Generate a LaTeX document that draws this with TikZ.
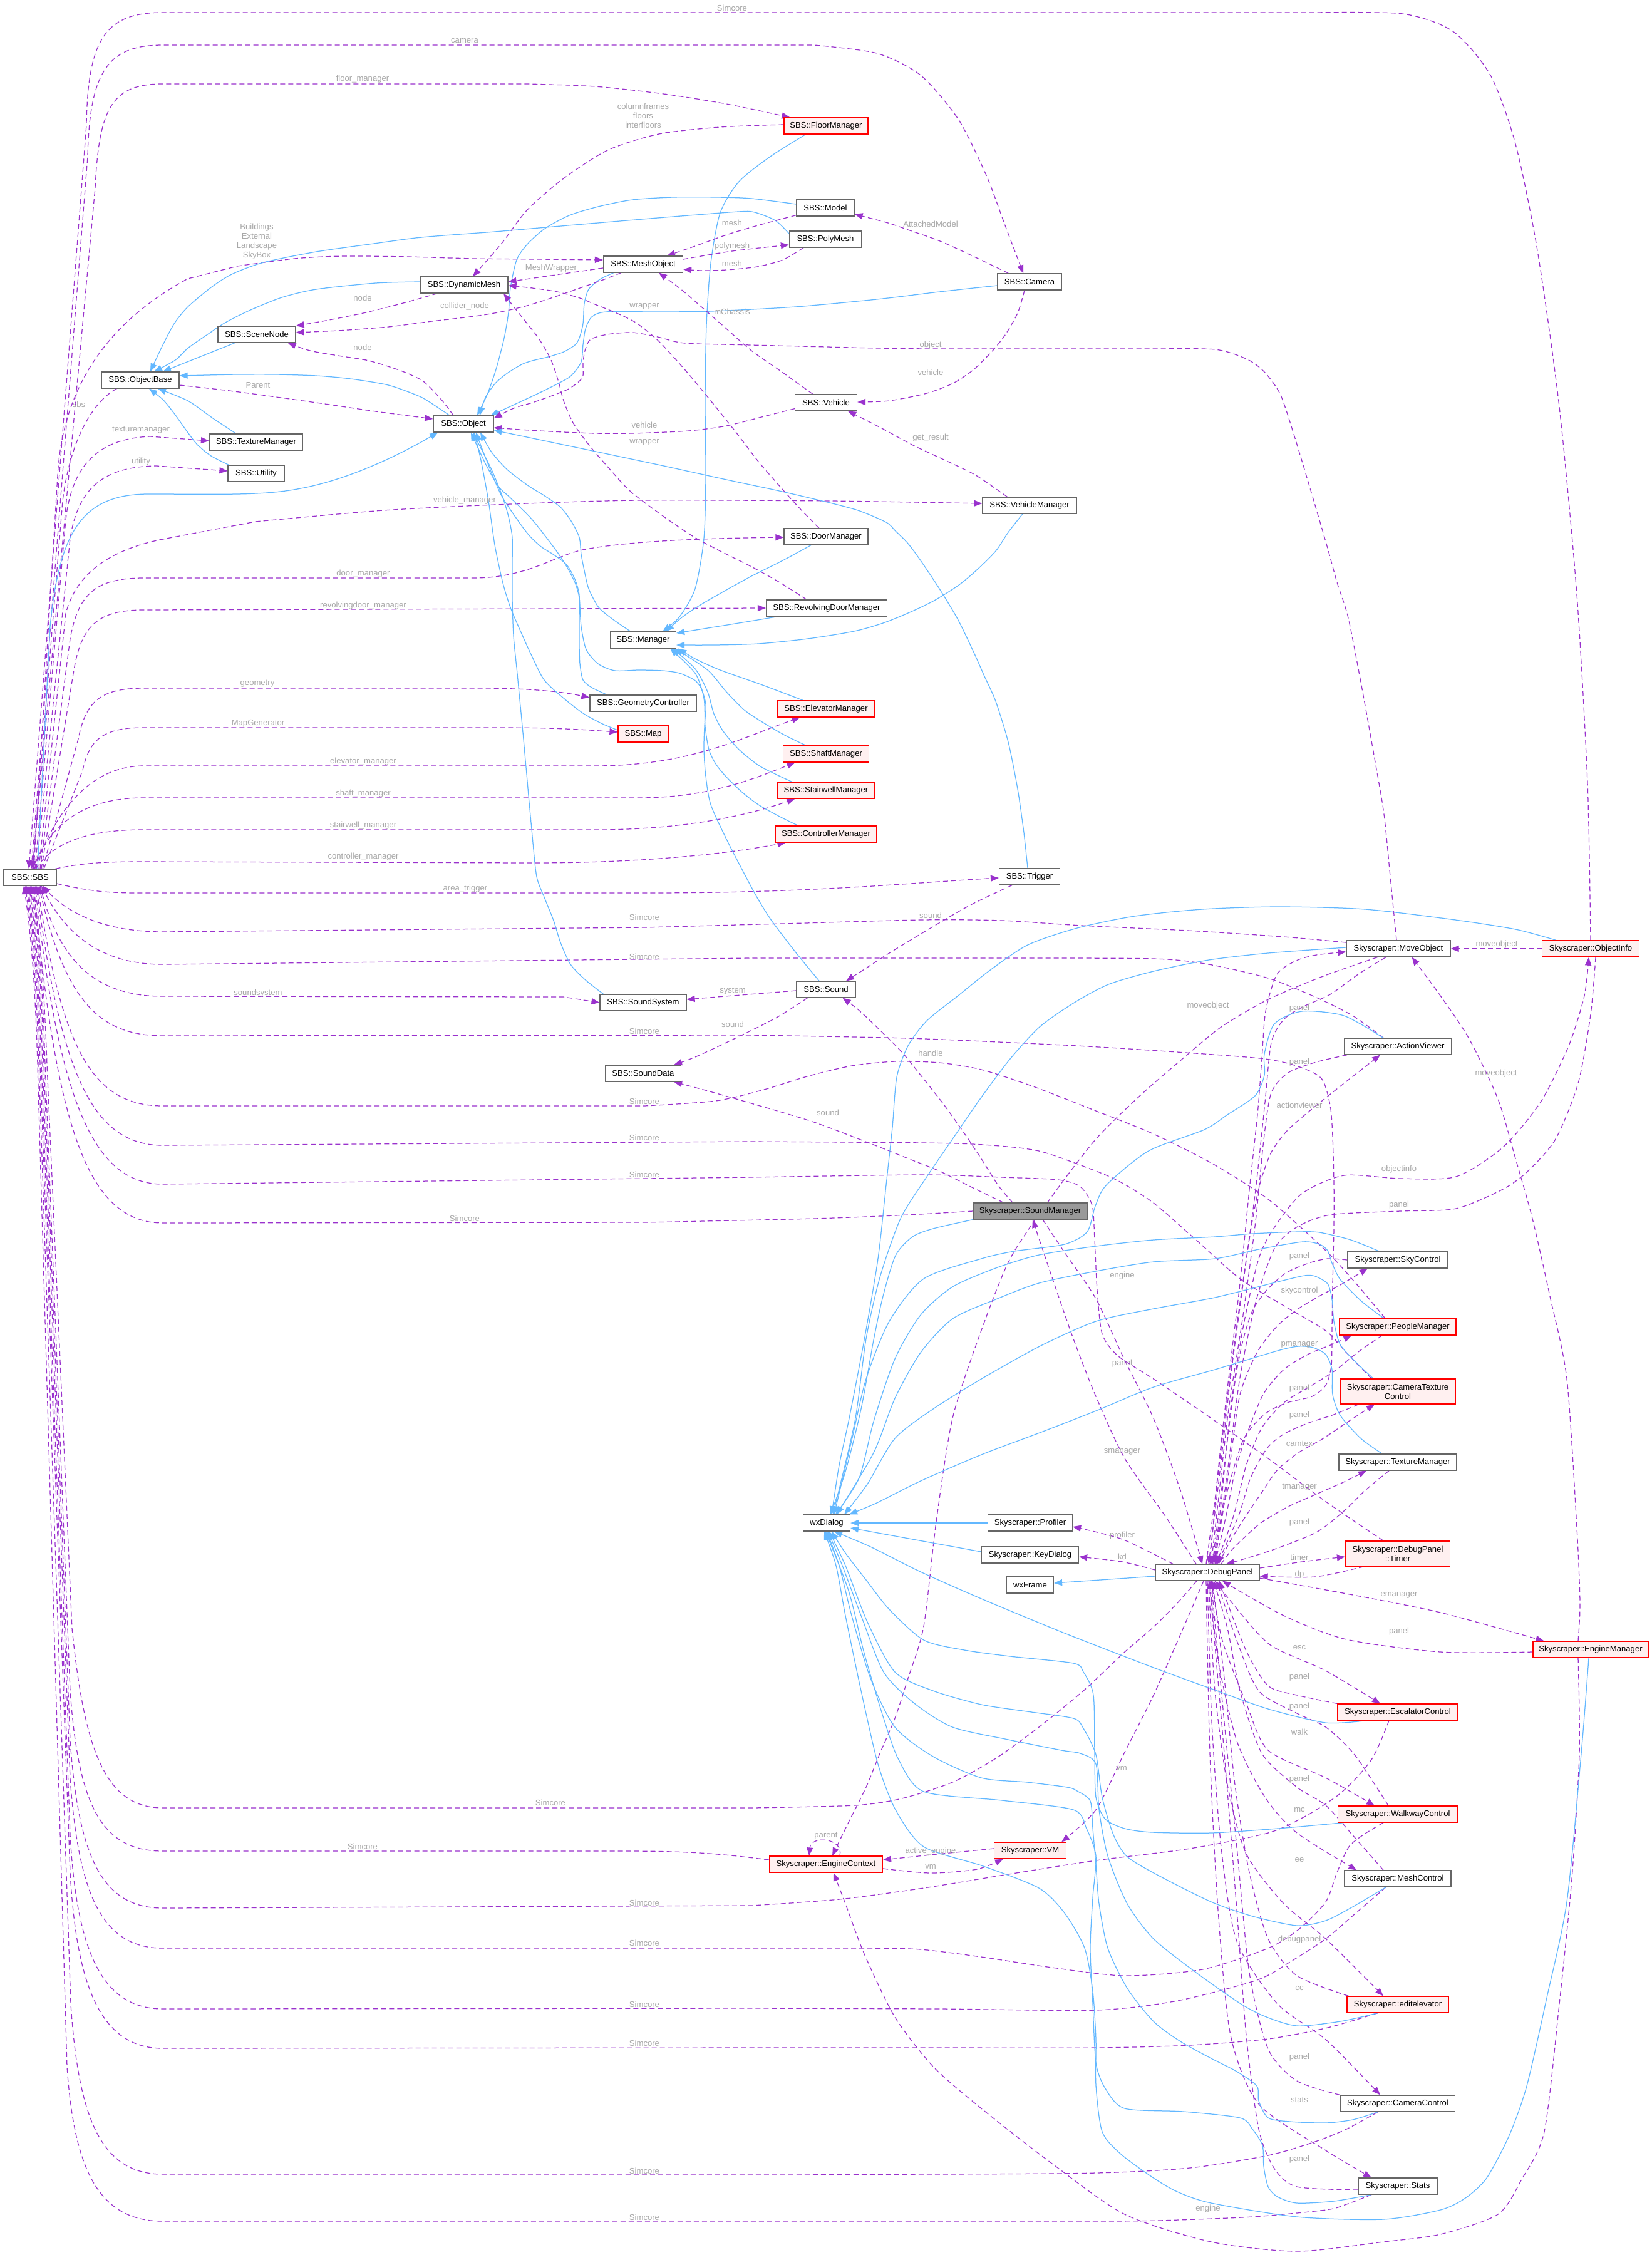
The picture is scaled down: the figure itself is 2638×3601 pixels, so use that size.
\documentclass[tikz,border=0pt]{standalone}
\usepackage{fontspec}
\setmainfont{Liberation Sans}
\usetikzlibrary{arrows.meta,calc}
\definecolor{depc}{HTML}{9A32CD}
\definecolor{inhc}{HTML}{63B8FF}
\definecolor{lblc}{HTML}{A8A8A8}
\definecolor{boxc}{HTML}{666666}
\definecolor{redfill}{HTML}{FFF0F0}
\definecolor{rootfill}{HTML}{999999}
\pgfdeclarelayer{bg}
\pgfsetlayers{bg,main}
\newcommand\nfont{\fontsize{13.1bp}{14.8bp}\selectfont}
\newcommand\depedge[1]{\draw[dep] plot[smooth,tension=0.45] coordinates {#1};}
\newcommand\inhedge[1]{\draw[inh] plot[smooth,tension=0.45] coordinates {#1};}
\newcommand\elabel[3]{\node[lbltxt] at (#1,#2) {#3};}
\tikzset{
 box/.style={draw=boxc, fill=white, line width=1.2bp, minimum height=26bp, inner sep=0pt, font=\nfont, text=black, align=center},
 redbox/.style={box, draw=red, fill=redfill},
 dep/.style={draw=depc, line width=1.25bp, dash pattern=on 8bp off 5bp, -{Triangle[length=13bp,width=10bp]}},
 inh/.style={draw=inhc, line width=1.25bp, -{Triangle[length=13bp,width=10bp]}},
 lbltxt/.style={text=lblc, font=\nfont, inner sep=0pt, align=center},
}
\begin{document}
\begin{tikzpicture}[x=1bp,y=-1bp]
\useasboundingbox (0,0) rectangle (2638,3601);
% ---------------- nodes
\node[redbox, minimum width=134bp] (fm) at (1319,201) {SBS::FloorManager};
\node[box, minimum width=92bp] (model) at (1318,332) {SBS::Model};
\node[box, minimum width=115bp] (poly) at (1318,382) {SBS::PolyMesh};
\node[box, minimum width=127bp] (mo) at (1027,422) {SBS::MeshObject};
\node[box, minimum width=102bp] (cam) at (1644,450) {SBS::Camera};
\node[box, minimum width=140bp] (dm) at (741,455) {SBS::DynamicMesh};
\node[box, minimum width=124bp] (sn) at (410,534) {SBS::SceneNode};
\node[box, minimum width=124bp] (ob) at (224,607) {SBS::ObjectBase};
\node[box, minimum width=96bp] (obj) at (740,677) {SBS::Object};
\node[box, minimum width=149bp] (tm) at (409,706) {SBS::TextureManager};
\node[box, minimum width=90bp] (util) at (409,756) {SBS::Utility};
\node[box, minimum width=99bp] (veh) at (1319,643) {SBS::Vehicle};
\node[box, minimum width=150bp] (vmgr) at (1644,807) {SBS::VehicleManager};
\node[box, minimum width=134bp] (dorm) at (1319,857) {SBS::DoorManager};
\node[box, minimum width=193bp] (rdm) at (1320,971) {SBS::RevolvingDoorManager};
\node[box, minimum width=105bp] (mgr) at (1027,1022) {SBS::Manager};
\node[box, minimum width=170bp] (geo) at (1027,1123) {SBS::GeometryController};
\node[redbox, minimum width=80bp] (map) at (1027,1172) {SBS::Map};
\node[redbox, minimum width=154bp] (elev) at (1319,1132) {SBS::ElevatorManager};
\node[redbox, minimum width=137bp] (shaft) at (1319,1204) {SBS::ShaftManager};
\node[redbox, minimum width=156bp] (stair) at (1319,1262) {SBS::StairwellManager};
\node[redbox, minimum width=162bp] (ctrl) at (1319,1332) {SBS::ControllerManager};
\node[box, minimum width=84bp] (sbs) at (48,1401) {SBS::SBS};
\node[box, minimum width=97bp] (trig) at (1644,1400) {SBS::Trigger};
\node[box, minimum width=166bp] (mov) at (2233,1515) {Skyscraper::MoveObject};
\node[redbox, minimum width=155bp] (oi) at (2540,1515) {Skyscraper::ObjectInfo};
\node[box, minimum width=94bp] (snd) at (1319,1580) {SBS::Sound};
\node[box, minimum width=138bp] (ss) at (1027,1601) {SBS::SoundSystem};
\node[box, minimum width=121bp] (sd) at (1027,1714) {SBS::SoundData};
\node[box, minimum width=75bp] (wxd) at (1320,2432) {wxDialog};
\node[box, minimum width=171bp] (av) at (2232,1671) {Skyscraper::ActionViewer};
\node[box, fill=rootfill, minimum width=182bp] (sm) at (1645,1934) {Skyscraper::SoundManager};
\node[box, minimum width=160bp] (sky) at (2232,2012) {Skyscraper::SkyControl};
\node[redbox, minimum width=186bp] (pm) at (2232,2119) {Skyscraper::PeopleManager};
\node[redbox, minimum width=184bp, minimum height=40bp] (ctc) at (2232,2222) {Skyscraper::CameraTexture\\Control};
\node[box, minimum width=188bp] (stm) at (2232,2335) {Skyscraper::TextureManager};
\node[box, minimum width=135bp] (prof) at (1645,2432) {Skyscraper::Profiler};
\node[box, minimum width=155bp] (kd) at (1645,2483) {Skyscraper::KeyDialog};
\node[redbox, minimum width=167bp, minimum height=40bp] (tmr) at (2232,2481) {Skyscraper::DebugPanel\\::Timer};
\node[box, minimum width=166bp] (dp) at (1928,2511) {Skyscraper::DebugPanel};
\node[box, minimum width=75bp] (wxf) at (1645,2531) {wxFrame};
\node[redbox, minimum width=184bp] (em) at (2540,2634) {Skyscraper::EngineManager};
\node[redbox, minimum width=192bp] (esc) at (2232,2734) {Skyscraper::EscalatorControl};
\node[redbox, minimum width=191bp] (walk) at (2232,2897) {Skyscraper::WalkwayControl};
\node[redbox, minimum width=115bp] (vmach) at (1645,2955) {Skyscraper::VM};
\node[redbox, minimum width=181bp] (ec) at (1319,2977) {Skyscraper::EngineContext};
\node[box, minimum width=170bp] (mc) at (2232,3000) {Skyscraper::MeshControl};
\node[redbox, minimum width=162bp] (ee) at (2232,3201) {Skyscraper::editelevator};
\node[box, minimum width=183bp] (cc) at (2232,3359) {Skyscraper::CameraControl};
\node[box, minimum width=126bp] (stats) at (2232,3491) {Skyscraper::Stats};

\begin{pgfonlayer}{bg}
\fill[white] (0,0) rectangle (2638,3601);
% ---------------- left bundle, lines leaving SBS upwards
\draw[dep] plot[smooth,tension=0.45] coordinates {(oi.north) (2535,1250) (2518,950) (2490,650) (2455,400) (2420,230) (2380,120) (2320,50) (2240,22) (2100,20)} -- (260,20) .. controls (170,20) and (140,60) .. (138,200) -- ($(sbs.north)+(-2,0)$);
\draw[dep] ($(sbs.north)+(2,0)$) -- (140,250) .. controls (143,110) and (175,72) .. (260,72) -- plot[smooth,tension=0.45] coordinates {(1300,72) (1400,85) (1470,120) (1530,190) (1575,280) (1605,360) ($(cam.north)+(-10,0)$)};
\draw[dep] ($(sbs.north)+(4,0)$) -- (152,300) .. controls (158,170) and (180,134) .. (260,134) -- plot[smooth,tension=0.45] coordinates {(842,134) (950,138) (1060,150) (1160,166) ($(fm.north west)+(10,0)$)};
\draw[dep] ($(ob.south west)+(25,0)$) .. controls (150,640) and (112,700) .. (100,800) -- ($(sbs.north)+(4,0)$);
\draw[dep] ($(sbs.north)+(6,0)$) -- (92,760) .. controls (100,610) and (180,510) .. (300,445) -- plot[smooth,tension=0.45] coordinates {(379,425) (470,413) (547,409) (650,410) (758,413) (860,414) ($(mo.west)+(0,-7)$)};
\draw[dep] ($(sbs.north)+(8,0)$) -- (105,830) .. controls (115,740) and (160,700) .. (240,697) -- ($(tm.west)+(0,-2)$);
\draw[dep] ($(sbs.north)+(10,0)$) -- (112,860) .. controls (125,775) and (170,745) .. (250,744) -- ($(util.west)+(0,-4)$);
\draw[inh] ($(sbs.north)+(12,0)$) -- (80,1000) .. controls (95,850) and (130,790) .. (235,789) .. controls (350,789) and (420,792) .. (480,780) .. controls (560,765) and (640,725) .. ($(obj.south west)+(8,0)$);
\draw[dep] ($(sbs.north)+(14,0)$) -- (105,980) .. controls (120,920) and (170,880) .. (255,862) -- plot[smooth,tension=0.45] coordinates {(408,833) (612,815) (816,805) (1020,799) (1326,800) ($(vmgr.west)+(0,-3)$)};
\draw[dep] ($(sbs.north)+(16,0)$) -- (112,1020) .. controls (125,950) and (150,923) .. (230,923) -- (755,923) .. controls (840,923) and (880,890) .. (930,878) .. controls (1000,865) and (1100,860) .. ($(dorm.west)+(0,1)$);
\draw[dep] ($(sbs.north)+(18,0)$) -- (118,1070) .. controls (130,1000) and (155,974) .. (230,974) -- (rdm.west);
\draw[dep] ($(sbs.north)+(20,0)$) -- (125,1180) .. controls (137,1120) and (160,1099) .. (230,1099) -- (765,1099) .. controls (850,1099) and (900,1105) .. ($(geo.west)+(0,-9)$);
\draw[dep] ($(sbs.north)+(22,0)$) -- (132,1230) .. controls (143,1180) and (165,1162) .. (230,1162) -- (800,1162) .. controls (880,1162) and (930,1165) .. ($(map.west)+(0,-3)$);
\draw[dep] ($(sbs.north)+(7,0)$) .. controls (80,1320) and (130,1223) .. (230,1223) -- (949,1223) .. controls (1100,1223) and (1180,1180) .. ($(elev.south west)+(36,0)$);
\draw[dep] ($(sbs.north)+(5,0)$) .. controls (75,1325) and (125,1274) .. (230,1274) -- (1020,1274) .. controls (1130,1274) and (1200,1245) .. ($(shaft.south west)+(20,0)$);
\draw[dep] ($(sbs.north)+(9,0)$) .. controls (85,1345) and (140,1325) .. (230,1325) -- (950,1325) .. controls (1100,1325) and (1200,1300) .. ($(stair.south west)+(29,0)$);
\draw[dep] ($(sbs.north east)+(-2,0)$) .. controls (130,1378) and (170,1376) .. (230,1376) -- (847,1378) .. controls (1050,1378) and (1180,1360) .. ($(ctrl.south west)+(17,0)$);
\draw[dep] ($(sbs.east)+(0,10)$) .. controls (150,1425) and (180,1426) .. (230,1426) -- (1029,1426) .. controls (1300,1426) and (1450,1410) .. ($(trig.west)+(0,2)$);
% ---------------- left bundle, lines arriving at SBS from below
\draw[dep] plot[smooth,tension=0.45] coordinates {($(mov.west)+(0,-10)$) (2050,1496) (1897,1486) (1727,1478) (1600,1470) (1471,1469) (1250,1475) (1029,1481)} -- (260,1488) .. controls (170,1488) and (110,1460) .. ($(sbs.south)+(20,0)$);
\draw[dep] plot[smooth,tension=0.45] coordinates {($(av.north)+(-23,0)$) (2160,1622) (2100,1592) (2025,1562) (1930,1540) (1842,1531) (1600,1530) (1200,1530)} -- (260,1540) .. controls (170,1540) and (110,1500) .. ($(sbs.south)+(18,0)$);
\draw[dep] ($(sbs.south)+(16,0)$) .. controls (90,1520) and (140,1591) .. (260,1591) -- (900,1592) -- (ss.west);
\draw[dep] plot[smooth,tension=0.45] coordinates {($(dp.north)+(8,0)$) (1955,2400) (1985,2300) (2020,2258) (2055,2240) (2095,2230) (2117,2212) (2126,2180) (2127,2120) (2128,2050) (2130,1960) (2130,1890) (2128,1815) (2124,1765) (2110,1722) (2070,1702) (2012,1690) (1850,1678) (1700,1669) (1450,1658) (1200,1653)} -- (260,1654) .. controls (160,1654) and (105,1600) .. ($(sbs.south)+(14,0)$);
\draw[dep] plot[smooth,tension=0.45] coordinates {($(pm.north)+(-20,0)$) (2170,2055) (2117,1997) (2025,1915) (1934,1857) (1840,1810) (1750,1774) (1650,1735) (1567,1708) (1500,1697) (1429,1695) (1360,1702) (1292,1718) (1220,1740) (1143,1758) (1029,1766)} -- (260,1766) .. controls (150,1766) and (100,1680) .. ($(sbs.south)+(12,0)$);
\draw[dep] plot[smooth,tension=0.45] coordinates {($(ctc.north)+(-42,0)$) (2150,2160) (2117,2125) (2050,2085) (1980,2042) (1910,1980) (1842,1921) (1790,1888) (1750,1870) (1659,1838) (1570,1828) (1475,1825) (1200,1823)} -- (260,1829) .. controls (150,1829) and (98,1720) .. ($(sbs.south)+(10,0)$);
\draw[dep] plot[smooth,tension=0.45] coordinates {($(tmr.north)+(-23,0)$) (2120,2400) (2025,2329) (1930,2262) (1842,2202) (1785,2165) (1760,2130) (1752,2060) (1748,1980) (1744,1925) (1725,1895) (1690,1884) (1600,1880) (1475,1876) (1200,1880)} -- (260,1891) .. controls (150,1891) and (95,1760) .. ($(sbs.south)+(8,0)$);
\draw[dep] plot[smooth,tension=0.45] coordinates {(sm.west) (1450,1940) (1300,1946) (1029,1952)} -- (260,1953) .. controls (140,1953) and (90,1800) .. ($(sbs.south)+(6,0)$);
\draw[dep] plot[smooth,tension=0.45] coordinates {($(dp.south)+(-17,0)$) (1880,2560) (1840,2600) (1796,2638) (1730,2700) (1659,2758) (1590,2808) (1521,2846) (1440,2872) (1365,2883) (1200,2887)} -- (260,2887) .. controls (170,2887) and (135,2800) .. (115,2600) -- (75,1700) .. controls (70,1560) and (62,1480) .. ($(sbs.south)+(4,0)$);
\draw[dep] ($(ec.west)+(0,-7)$) .. controls (1150,2960) and (1100,2956) .. (1000,2956) -- (260,2956) .. controls (160,2956) and (125,2880) .. (112,2700) -- (72,1700) .. controls (68,1560) and (60,1480) .. ($(sbs.south)+(2,0)$);
\draw[dep] plot[smooth,tension=0.45] coordinates {($(esc.south)+(-14,0)$) (2205,2780) (2190,2810) (2165,2840) (2135,2868) (2085,2900) (2025,2927) (1900,2952) (1750,2971) (1610,2993) (1475,3015) (1340,3033) (1200,3043)} -- (260,3047) .. controls (160,3047) and (125,2960) .. (112,2780) -- (70,1700) .. controls (66,1560) and (58,1480) .. ($(sbs.south)+(0,0)$);
\draw[dep] plot[smooth,tension=0.45] coordinates {($(walk.south)+(-23,0)$) (2180,2928) (2154,2949) (2135,2990) (2117,3037) (2075,3080) (2025,3111) (1920,3145) (1796,3155) (1680,3142) (1567,3125) (1470,3113) (1383,3111) (1200,3111)} -- (260,3111) .. controls (160,3111) and (125,3020) .. (112,2840) -- (68,1700) .. controls (64,1560) and (56,1480) .. ($(sbs.south)+(-2,0)$);
\draw[dep] plot[smooth,tension=0.45] coordinates {($(mc.south)+(-19,0)$) (2165,3055) (2117,3096) (2060,3133) (2007,3162) (1880,3195) (1750,3210) (1500,3208) (1200,3207)} -- (260,3208) .. controls (160,3208) and (122,3110) .. (112,2930) -- (66,1700) .. controls (62,1560) and (54,1480) .. ($(sbs.south)+(-4,0)$);
\draw[dep] plot[smooth,tension=0.45] coordinates {($(ee.south)+(-32,0)$) (2120,3238) (2025,3256) (1900,3266) (1750,3270) (1500,3270) (1200,3270)} -- (260,3271) .. controls (160,3271) and (122,3170) .. (112,2990) -- (64,1700) .. controls (60,1560) and (52,1480) .. ($(sbs.south)+(-6,0)$);
\draw[dep] plot[smooth,tension=0.45] coordinates {($(cc.south)+(-32,0)$) (2150,3400) (2100,3420) (2025,3442) (1900,3462) (1750,3470) (1500,3472) (1200,3472)} -- (260,3472) .. controls (160,3472) and (125,3380) .. (113,3200) -- (62,1700) .. controls (58,1560) and (50,1480) .. ($(sbs.south)+(-8,0)$);
\draw[dep] plot[smooth,tension=0.45] coordinates {($(stats.south)+(-42,0)$) (2150,3520) (2117,3529) (2000,3540) (1850,3546) (1750,3547) (1500,3547) (1200,3547)} -- (260,3547) .. controls (155,3547) and (118,3460) .. (107,3300) -- (60,1700) .. controls (56,1560) and (48,1480) .. ($(sbs.south)+(-10,0)$);
% ---------------- SBS middle area
\depedge{($(fm.west)+(0,-2)$) (1150,203) (1052,214) (970,240) (900,285) (842,335) (800,390) ($(dm.north)+(14,0)$)}
\inhedge{($(fm.south west)+(35,0)$) (1230,250) (1180,290) (1150,340) (1135,420) (1128,520) (1126,640) (1127,760) (1124,860) (1110,940) (1085,985) ($(mgr.north east)+(-22,0)$)}
\inhedge{($(model.west)+(0,-6)$) (1200,317) (1145,315) (1075,315) (1010,319) (955,330) (909,344) (870,365) (842,390) (825,415) (815,460) (812,499) (805,540) (792,590) (778,630) ($(obj.north)+(22,0)$)}
\inhedge{($(poly.west)+(0,-9)$) (1238,352) (1205,339) (1179,338) (1050,348) (907,360) (790,370) (673,379) (590,390) (505,402) (421,419) (370,438) (337,459) (300,490) (278,517) (258,555) ($(ob.north)+(16,0)$)}
\depedge{($(model.south west)+(0,-2)$) (1210,360) (1160,375) (1110,393) ($(mo.north east)+(-26,0)$)}
\depedge{($(mo.east)+(0,-8)$) (1169,401) ($(poly.west)+(0,9)$)}
\depedge{($(poly.south west)+(23,0)$) (1250,415) (1209,426) (1160,431) (1120,432) ($(mo.east)+(0,8)$)}
\depedge{($(cam.north west)+(18,0)$) (1560,412) (1501,385) (1450,367) (1418,356) ($(model.east)+(0,10)$)}
\depedge{($(cam.south)+(-8,0)$) (1625,500) (1605,535) (1585,560) (1555,590) (1522,612) (1480,628) (1420,640) ($(veh.east)+(0,-1)$)}
\inhedge{($(cam.west)+(0,6)$) (1500,466) (1400,478) (1270,490) (1136,497) (1050,498) (968,498) (945,506) (935,525) (931,550) (928,578) (912,600) (892,612) (860,628) (830,642) ($(obj.north east)+(-5,0)$)}
\inhedge{($(mo.south west)+(17,0)$) (958,446) (940,462) (933,485) (931,517) (925,540) (918,551) (900,562) (875,570) (850,576) (833,582) (810,596) (791,612) (775,635) ($(obj.north)+(26,0)$)}
\inhedge{($(dm.west)+(0,-5)$) (600,452) (505,462) (450,475) (400,495) (360,515) (330,535) (300,556) (280,575) ($(ob.north)+(22,0)$)}
\draw[inh] ($(sn.south)+(-35,0)$) -- ($(ob.north)+(36,0)$);
\inhedge{($(tm.north)+(-32,0)$) (340,668) (300,640) ($(ob.south)+(28,0)$)}
\inhedge{($(util.north west)+(2,0)$) (337,728) (315,710) (298,688) (278,660) (260,638) ($(ob.south)+(14,0)$)}
\inhedge{($(obj.north)+(-22,0)$) (695,648) (670,633) (620,615) (560,605) (505,600) (440,598) (380,598) (330,599) ($(ob.east)+(0,-7)$)}
\depedge{($(ob.east)+(0,8)$) (350,622) (412,630) (505,643) (600,657) ($(obj.west)+(0,-8)$)}
\depedge{($(mo.west)+(0,6)$) (880,440) ($(dm.east)+(0,-5)$)}
\depedge{($(dm.south west)+(28,0)$) (640,485) (580,500) (520,512) (sn.north east)}
\depedge{($(mo.south west)+(29,0)$) (960,448) (926,460) (880,476) (842,488) (800,498) (758,505) (690,513) (620,522) (540,528) ($(sn.east)+(0,-3)$)}
\depedge{($(obj.north)+(-16,0)$) (708,642) (690,622) (673,607) (640,592) (589,576) (540,568) (495,560) ($(sn.south east)+(-13,0)$)}
\depedge{($(veh.north)+(-21,0)$) (1250,595) (1200,560) (1160,525) (1120,490) (1085,460) ($(mo.south)+(25,0)$)}
\depedge{($(veh.south west)+(0,-4)$) (1220,665) (1160,680) (1100,688) (1010,692) (950,692) (880,689) (830,686) ($(obj.east)+(0,6)$)}
\inhedge{($(vmgr.south)+(-11,0)$) (1610,850) (1590,880) (1560,910) (1530,935) (1490,960) (1450,979) (1410,995) (1364,1008) (1290,1020) (1211,1028) (1140,1030) ($(mgr.east)+(0,8)$)}
\depedge{($(vmgr.north west)+(40,0)$) (1560,760) (1520,740) (1460,712) (1410,685) (1375,667) ($(veh.south east)+(-15,0)$)}
\depedge{($(mov.north)+(-3,0)$) (2220,1400) (2210,1300) (2196,1217) (2175,1100) (2153,987) (2135,930) (2119,872) (2095,790) (2068,700) (2045,631) (2020,595) (1992,574) (1940,558) (1830,557) (1700,557) (1590,557) (1486,557) (1400,556) (1320,554) (1200,551) (1094,548) (1050,538) (1010,531) (970,534) (943,542) (934,560) (931,580) (930,603) (910,620) (884,631) (850,643) (820,652) ($(obj.east)+(0,-9)$)}
\depedge{($(dorm.north)+(-11,0)$) (1280,815) (1250,782) (1211,737) (1175,690) (1135,640) (1095,592) (1052,545) (1015,515) (980,498) (950,486) (926,476) (890,466) (850,460) ($(dm.east)+(0,1)$)}
\depedge{($(rdm.north)+(-32,0)$) (1245,930) (1200,905) (1150,880) (1109,858) (1060,825) (1007,785) (970,745) (940,710) (915,675) (900,640) (892,610) (880,575) (862,543) (842,517) (822,492) ($(dm.south)+(63,0)$)}
\inhedge{($(trig.north)+(-3,0)$) (1635,1330) (1625,1260) (1610,1185) (1590,1120) (1572,1080) (1556,1044) (1530,990) (1500,940) (1470,895) (1450,868) (1430,848) (1415,834) (1370,815) (1313,800) (1240,783) (1160,766) (1060,744) (956,722) (870,704) ($(obj.east)+(0,10)$)}
\inhedge{($(dorm.south)+(-24,0)$) (1250,895) (1200,920) (1160,942) (1120,965) (1090,985) ($(mgr.north east)+(-17,0)$)}
\draw[inh] ($(rdm.south west)+(19,0)$) .. controls (1180,995) .. ($(mgr.east)+(0,-11)$);
\inhedge{($(mgr.north)+(-20,0)$) (980,990) (956,970) (940,940) (933,911) (928,885) (925,858) (912,832) (895,810) (870,792) (844,776) (810,750) (785,722) ($(obj.south)+(27,0)$)}
\inhedge{($(geo.north)+(-58,0)$) (945,1098) (931,1086) (926,1060) (925,1028) (925,990) (925,950) (918,925) (905,902) (886,887) (864,873) (845,855) (829,834) (800,790) (775,730) ($(obj.south)+(20,0)$)}
\inhedge{($(map.west)+(0,-6)$) (960,1155) (931,1139) (900,1115) (869,1086) (848,1045) (829,1003) (815,970) (803,931) (790,870) (780,800) (768,735) ($(obj.south)+(17,0)$)}
\inhedge{($(ss.north west)+(6,0)$) (935,1565) (911,1540) (895,1505) (884,1470) (870,1435) (857,1400) (850,1335) (844,1270) (835,1170) (826,1076) (820,1015) (818,955) (818,900) (818,858) (812,825) (803,795) (785,750) ($(obj.south)+(15,0)$)}
\inhedge{($(snd.north)+(-11,0)$) (1270,1520) (1232,1470) (1210,1435) (1191,1400) (1160,1340) (1135,1285) (1127,1240) (1124,1197) (1125,1160) (1127,1125) (1120,1100) (1109,1086) (1085,1075) (1058,1071) (1020,1070) (982,1071) (955,1060) (936,1037) (928,1000) (925,955) (918,930) (905,905) (888,879) (850,830) (815,795) (796,777) (775,740) ($(obj.south)+(12,0)$)}
\inhedge{($(elev.north west)+(41,0)$) (1215,1093) (1150,1070) (1110,1052) ($(mgr.south east)+(3,0)$)}
\inhedge{($(shaft.north west)+(37,0)$) (1255,1175) (1227,1159) (1190,1135) (1160,1105) (1130,1070) ($(mgr.south east)+(-2,0)$)}
\inhedge{($(stair.north west)+(24,0)$) (1240,1237) (1211,1222) (1180,1197) (1155,1168) (1140,1140) (1130,1105) (1110,1068) ($(mgr.south east)+(-6,0)$)}
\inhedge{($(ctrl.north west)+(37,0)$) (1245,1304) (1211,1285) (1185,1265) (1160,1241) (1143,1220) (1132,1197) (1126,1160) (1124,1115) (1110,1075) ($(mgr.south east)+(-10,0)$)}
\depedge{($(snd.west)+(0,2)$) (1170,1590) ($(ss.east)+(0,-5)$)}
\depedge{($(snd.south west)+(18,0)$) (1240,1625) (1170,1660) (1110,1688) ($(sd.north east)+(-12,0)$)}
\depedge{($(trig.south)+(-28,0)$) (1550,1445) (1486,1482) (1420,1522) (1380,1548) ($(snd.north)+(32,0)$)}
\depedge{($(sm.north)+(-28,0)$) (1594,1893) (1568,1852) (1540,1810) (1508,1765) (1475,1723) (1440,1680) (1400,1640) (1370,1612) ($(snd.south east)+(-21,0)$)}
\depedge{($(sm.north west)+(49,0)$) (1550,1895) (1500,1870) (1450,1850) (1400,1830) (1300,1792) (1200,1762) (1130,1742) ($(sd.south east)+(-12,0)$)}
% ---------------- Skyscraper area, dashed
\draw[dep] (oi.west) -- (mov.east);
\depedge{($(em.north)+(-20,0)$) (2523,2560) (2518,2440) (2502,2202) (2475,2070) (2447,1946) (2420,1850) (2392,1755) (2346,1659) (2300,1590) ($(mov.south east)+(-62,0)$)}
\depedge{($(dp.north)+(10,0)$) (1950,2400) (1965,2250) (1985,2120) (2010,2010) (2035,1960) (2079,1906) (2146,1877) (2236,1882) (2325,1879) (2400,1832) (2460,1760) (2505,1670) (2530,1590) ($(oi.south)+(-3,0)$)}
\depedge{($(oi.south)+(8,0)$) (2540,1620) (2520,1730) (2484,1819) (2440,1870) (2400,1899) (2325,1930) (2236,1934) (2124,1940) (2070,1960) (2035,1994) (2005,2080) (1980,2200) (1960,2350) ($(dp.north)+(12,0)$)}
\depedge{($(mov.south)+(-20,0)$) (2170,1555) (2124,1588) (2080,1608) (2050,1628) (2030,1665) (2020,1760) (2005,1900) (1985,2050) (1965,2200) (1948,2350) ($(dp.north)+(2,0)$)}
\depedge{($(dp.north)+(4,0)$) (1945,2350) (1962,2200) (1980,2050) (1995,1900) (2008,1780) (2015,1690) (2021,1615) (2039,1556) (2070,1534) (2102,1525) ($(mov.west)+(0,5)$)}
\depedge{($(av.south west)+(5,0)$) (2102,1696) (2057,1713) (2030,1745) (2018,1820) (2005,1950) (1985,2100) (1962,2250) (1945,2400) ($(dp.north)+(6,0)$)}
\depedge{($(dp.north)+(-2,0)$) (1942,2380) (1960,2230) (1980,2080) (1998,1960) (2012,1890) (2030,1840) (2055,1806) (2090,1775) (2146,1730) ($(av.south)+(-28,0)$)}
\depedge{(sky.west) (2120,2010) (2090,2017) (2053,2033) (2023,2060) (2000,2093) (1985,2140) (1973,2200) (1960,2300) (1948,2400) ($(dp.north)+(8,0)$)}
\depedge{($(dp.north)+(10,0)$) (1952,2420) (1965,2330) (1980,2227) (2007,2160) (2040,2117) (2073,2090) (2110,2068) (2140,2052) ($(sky.south)+(-48,0)$)}
\depedge{($(dp.north)+(12,0)$) (1958,2420) (1972,2350) (1990,2293) (2017,2227) (2050,2187) (2090,2162) (2127,2147) ($(pm.south west)+(20,0)$)}
\depedge{($(pm.south)+(-25,0)$) (2170,2158) (2130,2190) (2090,2215) (2050,2240) (2015,2280) (1990,2340) (1970,2420) ($(dp.north)+(14,0)$)}
\depedge{($(ctc.south west)+(30,0)$) (2127,2260) (2090,2272) (2050,2290) (2023,2313) (1997,2360) (1978,2420) ($(dp.north)+(16,0)$)}
\depedge{($(dp.north)+(18,0)$) (1965,2460) (1990,2420) (2017,2380) (2040,2347) (2073,2320) (2113,2297) (2153,2270) ($(ctc.south)+(-37,0)$)}
\depedge{($(dp.north)+(22,0)$) (1968,2474) (2012,2433) (2057,2406) (2102,2386) (2145,2367) ($(stm.south)+(-50,0)$)}
\depedge{($(stm.south)+(-14,0)$) (2180,2380) (2146,2413) (2102,2447) (2035,2474) (1985,2490) ($(dp.north)+(30,0)$)}
\depedge{($(dp.east)+(0,-7)$) (2079,2494) ($(tmr.west)+(0,5)$)}
\depedge{($(tmr.south west)+(30,0)$) (2100,2518) ($(dp.east)+(0,6)$)}
\depedge{($(dp.north)+(-55,0)$) (1792,2458) ($(prof.east)+(0,6)$)}
\depedge{($(dp.west)+(0,-4)$) (1792,2494) ($(kd.east)+(0,3)$)}
\depedge{($(dp.east)+(0,9)$) (2150,2545) (2300,2575) ($(em.north west)+(18,0)$)}
\depedge{($(em.west)+(0,4)$) (2300,2638) (2150,2618) (2050,2580) ($(dp.south)+(24,0)$)}
\depedge{($(dp.north)+(-18,0)$) (1860,2420) (1796,2329) (1750,2230) (1714,2138) (1680,2040) ($(sm.south)+(4,0)$)}
\depedge{($(sm.south)+(20,0)$) (1700,2000) (1750,2074) (1795,2170) (1842,2265) (1885,2380) ($(dp.north)+(-8,0)$)}
\depedge{($(dp.south)+(-6,0)$) (1885,2610) (1842,2707) (1795,2800) (1750,2890) ($(vmach.north east)+(-8,0)$)}
\depedge{($(vmach.west)+(0,-3)$) (1486,2962) ($(ec.east)+(0,-7)$)}
\depedge{($(ec.east)+(0,7)$) (1486,2991) (1560,2985) ($(vmach.south west)+(15,0)$)}
\draw[dep] ($(ec.north)+(22,0)$) .. controls (1348,2935) and (1295,2930) .. ($(ec.north)+(-27,0)$);
\depedge{($(mov.south west)+(50,0)$) (2110,1560) (2025,1596) (1950,1640) (1888,1691) (1820,1750) (1750,1819) (1680,1910) (1613,2010) (1565,2130) (1521,2265) (1495,2430) (1475,2597) (1450,2680) (1429,2744) (1405,2800) (1383,2854) (1355,2910) ($(ec.north)+(10,0)$)}
\depedge{($(em.south)+(-20,0)$) (2522,2800) (2510,3000) (2490,3200) (2466,3404) (2430,3480) (2392,3536) (2300,3568) (2209,3580) (2071,3595) (1934,3580) (1796,3536) (1680,3455) (1567,3367) (1490,3300) (1429,3221) (1380,3120) (1350,3040) ($(ec.south)+(12,0)$)}
\depedge{($(dp.south)+(12,0)$) (1980,2575) (2030,2628) (2117,2668) ($(esc.north)+(-28,0)$)}
\depedge{(esc.north west) (2071,2707) (2025,2692) (1989,2634) ($(dp.south)+(19,0)$)}
\depedge{($(walk.north)+(-15,0)$) (2163,2802) (2117,2758) (2071,2736) (2010,2700) (1975,2620) ($(dp.south)+(15,0)$)}
\depedge{($(dp.south)+(6,0)$) (1952,2620) (1990,2720) (2025,2795) (2117,2839) ($(walk.north)+(-37,0)$)}
\depedge{($(mc.north)+(-23,0)$) (2163,2934) (2117,2883) (2071,2854) (2015,2800) (1980,2700) (1960,2600) ($(dp.south)+(10,0)$)}
\depedge{($(dp.south)+(4,0)$) (1945,2650) (1975,2780) (2020,2870) (2071,2927) ($(mc.north west)+(20,0)$)}
\depedge{($(dp.south)+(2,0)$) (1940,2700) (1960,2850) (1990,2960) (2050,3040) (2117,3096) ($(ee.north)+(-23,0)$)}
\depedge{($(ee.north west)+(3,0)$) (2071,3155) (2025,3096) (1995,2990) (1972,2850) (1955,2680) ($(dp.south)+(8,0)$)}
\depedge{(dp.south) (1935,2750) (1950,2950) (1975,3100) (2040,3200) (2117,3257) ($(cc.north)+(-28,0)$)}
\depedge{(cc.north west) (2071,3323) (2025,3272) (1995,3150) (1975,2950) (1955,2750) ($(dp.south)+(6,0)$)}
\depedge{($(dp.south)+(-2,0)$) (1932,2800) (1945,3050) (1965,3250) (2010,3360) (2117,3434) ($(stats.north)+(-42,0)$)}
\depedge{($(stats.west)+(0,6)$) (2071,3492) (2035,3463) (2010,3400) (1990,3250) (1975,3050) (1955,2800) ($(dp.south)+(3,0)$)}
% ---------------- Skyscraper area, inheritance
\inhedge{($(oi.north west)+(23,0)$) (2420,1484) (2324,1469) (2180,1452) (2042,1448) (1920,1452) (1812,1463) (1720,1482) (1641,1509) (1580,1550) (1530,1590) (1480,1630) (1450,1670) (1432,1720) (1425,1800) (1416,1883) (1402,2010) (1380,2140) (1356,2265) (1340,2340) ($(wxd.north)+(8,0)$)}
\inhedge{($(mov.west)+(0,-2)$) (2025,1522) (1930,1533) (1842,1551) (1770,1572) (1714,1602) (1660,1640) (1613,1691) (1565,1755) (1521,1819) (1478,1882) (1438,1946) (1405,2040) (1383,2138) (1365,2270) ($(wxd.north)+(10,0)$)}
\inhedge{($(av.north)+(-23,0)$) (2146,1622) (2079,1615) (2035,1635) (2019,1683) (2019,1717) (2004,1750) (1960,1780) (1923,1804) (1834,1838) (1767,1892) (1749,1926) (1736,1967) (1700,1987) (1620,1998) (1567,2010) (1475,2042) (1420,2110) (1383,2202) (1360,2300) ($(wxd.north)+(12,0)$)}
\inhedge{(sm.south west) (1490,1962) (1457,1975) (1430,2005) (1410,2070) (1395,2140) (1375,2250) (1350,2350) ($(wxd.north)+(6,0)$)}
\inhedge{($(sky.north)+(-29,0)$) (2157,1980) (2107,1968) (2073,1967) (2000,1970) (1940,1975) (1842,1980) (1750,1990) (1659,2004) (1590,2025) (1521,2055) (1470,2100) (1429,2170) (1395,2270) (1372,2360) ($(wxd.north)+(14,0)$)}
\inhedge{($(pm.north)+(-22,0)$) (2173,2077) (2140,2043) (2127,2017) (2120,1997) (2107,1987) (2080,1983) (2010,1995) (1940,2010) (1842,2015) (1750,2030) (1659,2049) (1590,2075) (1521,2106) (1470,2160) (1429,2233) (1395,2320) ($(wxd.north)+(16,0)$)}
\inhedge{($(ctc.north)+(-39,0)$) (2167,2177) (2140,2147) (2130,2110) (2127,2075) (2120,2050) (2100,2038) (2083,2037) (2040,2047) (1940,2072) (1842,2090) (1750,2110) (1660,2150) (1567,2202) (1490,2250) (1429,2297) (1385,2370) ($(wxd.north east)+(-10,0)$)}
\inhedge{($(stm.north)+(-25,0)$) (2173,2297) (2140,2260) (2128,2227) (2127,2187) (2117,2163) (2097,2152) (2073,2150) (2040,2157) (1940,2187) (1842,2215) (1750,2253) (1660,2288) (1567,2323) (1470,2365) (1400,2400) ($(wxd.north east)+(-2,0)$)}
\draw[inh] (prof.west) -- (wxd.east);
\draw[inh] ($(kd.west)+(0,-5)$) -- ($(wxd.east)+(0,8)$);
\draw[inh] ($(dp.west)+(0,6)$) -- ($(wxf.east)+(0,-3)$);
\inhedge{($(esc.south west)+(45,0)$) (2117,2751) (2025,2729) (1935,2697) (1842,2663) (1700,2608) (1567,2553) (1470,2510) (1390,2470) ($(wxd.south)+(12,0)$)}
\inhedge{($(walk.south west)+(10,0)$) (2040,2920) (1934,2927) (1840,2926) (1796,2920) (1765,2905) (1750,2870) (1748,2800) (1746,2707) (1730,2670) (1714,2656) (1613,2645) (1540,2635) (1475,2619) (1420,2570) (1383,2523) (1350,2480) ($(wxd.south)+(8,0)$)}
\inhedge{($(mc.south)+(-19,0)$) (2160,3045) (2117,3067) (2071,3075) (2000,3060) (1934,3037) (1850,2995) (1800,2965) (1778,2930) (1760,2870) (1750,2802) (1730,2760) (1714,2744) (1640,2733) (1567,2722) (1490,2700) (1429,2670) (1385,2590) (1350,2500) ($(wxd.south)+(4,0)$)}
\inhedge{($(ee.south)+(-32,0)$) (2140,3228) (2071,3235) (2020,3220) (1980,3199) (1910,3150) (1842,3096) (1800,3040) (1769,2964) (1755,2890) (1750,2817) (1725,2800) (1695,2795) (1610,2778) (1521,2758) (1460,2720) (1411,2670) (1375,2580) (1345,2500) ($(wxd.south)+(2,0)$)}
\inhedge{($(cc.south)+(-32,0)$) (2160,3385) (2117,3390) (2060,3388) (2025,3382) (2010,3355) (2007,3331) (1975,3308) (1934,3287) (1885,3260) (1842,3228) (1800,3175) (1769,3111) (1755,3040) (1750,2978) (1745,2920) (1741,2876) (1720,2860) (1704,2854) (1640,2846) (1567,2839) (1490,2805) (1429,2758) (1390,2680) (1360,2580) (1340,2500) (wxd.south)}
\inhedge{($(stats.south)+(-42,0)$) (2130,3515) (2071,3518) (2040,3508) (2025,3492) (2018,3460) (2016,3426) (2000,3400) (1980,3382) (1890,3372) (1796,3367) (1765,3335) (1750,3294) (1745,3200) (1741,3111) (1745,3030) (1750,2964) (1735,2920) (1714,2890) (1600,2875) (1475,2861) (1435,2810) (1411,2744) (1380,2640) (1355,2540) ($(wxd.south)+(-2,0)$)}
\inhedge{($(em.south)+(-3,0)$) (2525,2800) (2502,3037) (2470,3190) (2438,3331) (2410,3410) (2374,3478) (2340,3510) (2300,3529) (2209,3544) (2071,3540) (1934,3518) (1880,3500) (1842,3478) (1790,3440) (1760,3404) (1750,3330) (1750,3257) (1745,3180) (1732,3111) (1700,3055) (1659,3015) (1570,2980) (1475,2949) (1430,2890) (1402,2817) (1375,2700) (1350,2580) (1335,2500) ($(wxd.south)+(-4,0)$)}
\end{pgfonlayer}

% ---------------- labels
\elabel{1169}{13}{Simcore}
\elabel{742}{65}{camera}
\elabel{579}{126}{floor\_manager}
\node[lbltxt] at (1027,185) {columnframes\\floors\\interfloors};
\node[lbltxt] at (410,385.5) {Buildings\\External\\Landscape\\SkyBox};
\elabel{1169}{356}{mesh}
\elabel{1169}{393}{polymesh}
\elabel{1169}{421}{mesh}
\elabel{1486}{358}{AttachedModel}
\elabel{880}{428}{MeshWrapper}
\elabel{579}{476}{node}
\elabel{742}{489}{collider\_node}
\elabel{1029}{489}{wrapper}
\elabel{1169}{498}{mChassis}
\elabel{1486}{551}{object}
\elabel{579}{555}{node}
\elabel{1486}{595}{vehicle}
\elabel{412}{615}{Parent}
\elabel{126}{646}{sbs}
\elabel{1029}{679}{vehicle}
\elabel{225}{687}{texturemanager}
\elabel{1486}{699}{get\_result}
\elabel{1029}{706}{wrapper}
\elabel{225}{737}{utility}
\elabel{742}{799}{vehicle\_manager}
\elabel{580}{916}{door\_manager}
\elabel{580}{967}{revolvingdoor\_manager}
\elabel{411}{1092}{geometry}
\elabel{412}{1155}{MapGenerator}
\elabel{580}{1216}{elevator\_manager}
\elabel{580}{1267}{shaft\_manager}
\elabel{580}{1318}{stairwell\_manager}
\elabel{580}{1368}{controller\_manager}
\elabel{743}{1419}{area\_trigger}
\elabel{1486}{1462}{sound}
\elabel{1029}{1465}{Simcore}
\elabel{2390}{1508}{moveobject}
\elabel{1029}{1528}{Simcore}
\elabel{1170}{1583}{system}
\elabel{412}{1586}{soundsystem}
\elabel{1929}{1606}{moveobject}
\elabel{2075}{1610}{panel}
\elabel{1170}{1636}{sound}
\elabel{1029}{1647}{Simcore}
\elabel{1486}{1682}{handle}
\elabel{2075}{1696}{panel}
\elabel{2389}{1714}{moveobject}
\elabel{1029}{1759}{Simcore}
\elabel{2075}{1765}{actionviewer}
\elabel{1322}{1777}{sound}
\elabel{1029}{1817}{Simcore}
\elabel{2234}{1867}{objectinfo}
\elabel{1029}{1876}{Simcore}
\elabel{2234}{1924}{panel}
\elabel{742}{1946}{Simcore}
\elabel{2075}{2006}{panel}
\elabel{1792}{2037}{engine}
\elabel{2075}{2061}{skycontrol}
\elabel{2075}{2147}{pmanager}
\elabel{1792}{2177}{panel}
\elabel{2075}{2217}{panel}
\elabel{2075}{2260}{panel}
\elabel{2075}{2305}{camtex}
\elabel{1792}{2318}{smanager}
\elabel{2075}{2375}{tmanager}
\elabel{2075}{2431}{panel}
\elabel{1792}{2452}{profiler}
\elabel{2075}{2487}{timer}
\elabel{1792}{2486}{kd}
\elabel{2075}{2514}{dp}
\elabel{2234}{2547}{emanager}
\elabel{2234}{2605}{panel}
\elabel{2075}{2631}{esc}
\elabel{2075}{2678}{panel}
\elabel{2075}{2725}{panel}
\elabel{2075}{2766}{walk}
\elabel{1791}{2824}{vm}
\elabel{2075}{2841}{panel}
\elabel{879}{2879}{Simcore}
\elabel{2075}{2890}{mc}
\elabel{1319}{2932}{parent}
\elabel{579}{2949}{Simcore}
\elabel{1486}{2956}{active\_engine}
\elabel{2075}{2970}{ee}
\elabel{1486}{2981}{vm}
\elabel{1029}{3039}{Simcore}
\elabel{2075}{3097}{debugpanel}
\elabel{1029}{3103}{Simcore}
\elabel{2075}{3175}{cc}
\elabel{1029}{3201}{Simcore}
\elabel{1029}{3263}{Simcore}
\elabel{2075}{3285}{panel}
\elabel{2075}{3353}{stats}
\elabel{2075}{3448}{panel}
\elabel{1029}{3467}{Simcore}
\elabel{1929}{3527}{engine}
\elabel{1029}{3541}{Simcore}
\end{tikzpicture}
\end{document}
